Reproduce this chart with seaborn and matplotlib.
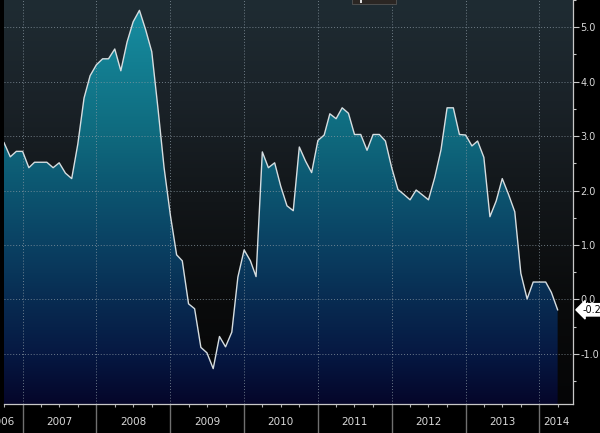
import numpy as np
import pandas as pd
import matplotlib
matplotlib.use("Agg")
import matplotlib.pyplot as plt
import matplotlib.dates as mdates
from matplotlib.colors import LinearSegmentedColormap
from matplotlib.patches import Rectangle
import matplotlib.transforms as mtransforms
import seaborn as sns

plt.rcParams["axes.unicode_minus"] = False

# ---------------- data (monthly, Oct 2006 .. Apr 2014) ----------------
start_month = "2006-10-01"
values = [
    2.88, 2.62, 2.72,                                                   # 2006 Q4
    2.72, 2.42, 2.52, 2.52, 2.52, 2.42, 2.51, 2.32, 2.22, 2.85, 3.70, 4.11,  # 2007
    4.31, 4.42, 4.42, 4.60, 4.20, 4.73, 5.10, 5.31, 4.95, 4.55, 3.50, 2.42,  # 2008
    1.55, 0.82, 0.71, -0.08, -0.17, -0.88, -0.98, -1.27, -0.68, -0.87, -0.60, 0.41,  # 2009
    0.91, 0.71, 0.42, 2.71, 2.42, 2.51, 2.08, 1.72, 1.63, 2.80, 2.54, 2.33,  # 2010
    2.92, 3.02, 3.41, 3.32, 3.52, 3.42, 3.03, 3.03, 2.74, 3.03, 3.03, 2.91,  # 2011
    2.42, 2.02, 1.93, 1.83, 2.01, 1.92, 1.83, 2.24, 2.75, 3.52, 3.52, 3.03,  # 2012
    3.02, 2.82, 2.91, 2.61, 1.52, 1.81, 2.22, 1.93, 1.61, 0.48, 0.01, 0.32,  # 2013
    0.32, 0.32, 0.13, -0.19,                                            # 2014
]
year_labels = ["2006", "2007", "2008", "2009", "2010", "2011", "2012", "2013", "2014"]
y_ticks = [-1.0, 0.0, 1.0, 2.0, 3.0, 4.0, 5.0]
last_label = "-0.2"

dates = pd.date_range(start_month, periods=len(values), freq="MS")
df = pd.DataFrame({"date": dates, "value": values})

# ---------------- figure ----------------
W, H = 600, 433
fig = plt.figure(figsize=(W / 100, H / 100), dpi=100, facecolor="black")
ax_l, ax_r, ax_t, ax_b = 4, 573, 0, 404
ax = fig.add_axes([ax_l / W, (H - ax_b) / H, (ax_r - ax_l) / W, (ax_b - ax_t) / H])
ax.set_facecolor("black")

ymin, ymax = -1.92, 5.47
x0 = mdates.date2num(pd.Timestamp(start_month))
x1 = mdates.date2num(pd.Timestamp("2014-06-16"))

# background gradient (dark slate -> black)
bg_cmap = LinearSegmentedColormap.from_list(
    "bg", [(0.0, "#1f2c33"), (0.25, "#1a2228"), (0.5, "#121619"), (0.75, "#0a0b0c"), (1.0, "#050506")])
grad = np.linspace(0, 1, 256).reshape(-1, 1)
ax.imshow(grad, cmap=bg_cmap, aspect="auto", extent=[0, 1, 0, 1],
          transform=ax.transAxes, zorder=0, interpolation="bicubic")

# area fill with vertical gradient (teal -> navy)
fill_cmap = LinearSegmentedColormap.from_list(
    "fill", [(0.0, "#188fa3"), (0.15, "#137f92"), (0.33, "#0f6a7e"), (0.47, "#0c5570"),
             (0.61, "#0a4062"), (0.74, "#082c52"), (0.88, "#061842"), (1.0, "#05062a")])
poly = ax.fill_between(mdates.date2num(dates), values, ymin, color="none", lw=0)
im = ax.imshow(grad, cmap=fill_cmap, aspect="auto", extent=[x0, x1, ymin, ymax],
               origin="upper", zorder=1, interpolation="bicubic")
im.set_clip_path(poly.get_paths()[0], transform=ax.transData)

# line
sns.lineplot(data=df, x="date", y="value", ax=ax, color="#d6dde0", lw=1.0, zorder=4)

ax.set_xlim(x0, x1)
ax.set_ylim(ymin, ymax)

# grid (dotted)
grid_kw = dict(color="#8c9aa4", lw=0.7, ls=(0, (1, 2)), zorder=3, alpha=0.75)
for yv in y_ticks:
    ax.axhline(yv, **grid_kw)
year_bounds = pd.date_range("2007-01-01", "2014-01-01", freq="YS")
for d in year_bounds:
    ax.axvline(mdates.date2num(d), **grid_kw)

# spines
for s in ["top", "left"]:
    ax.spines[s].set_visible(False)
for s in ["right", "bottom"]:
    ax.spines[s].set_color("#c8c8c8")
    ax.spines[s].set_linewidth(0.9)

# y axis on the right
ax.yaxis.tick_right()
ax.set_yticks(y_ticks)
ax.set_yticklabels([f"{v:.1f}" for v in y_ticks])
ax.set_yticks(np.arange(-1.5, 5.51, 1.0), minor=True)
ax.tick_params(axis="y", which="major", colors="#c8c8c8", length=4, width=0.8,
               labelcolor="#d8d8d8", labelsize=7, pad=1.5)
ax.tick_params(axis="y", which="minor", colors="#c8c8c8", length=2.5, width=0.8)
ax.set_ylabel("")

# x axis: long year-boundary ticks, quarterly minor ticks, centred labels
ax.set_xticks(mdates.date2num(year_bounds))
ax.set_xticklabels([])
ax.set_xticks(mdates.date2num(pd.date_range("2006-10-01", "2014-04-01", freq="QS")), minor=True)
ax.tick_params(axis="x", which="major", colors="#707070", length=21, width=1.0)
ax.tick_params(axis="x", which="minor", colors="#b0b0b0", length=2.5, width=0.8)
ax.set_xlabel("")

trans = mtransforms.blended_transform_factory(ax.transData, ax.transAxes)
label_pos = [x0 - 2.5 / 569 * (x1 - x0)]
for yr in year_labels[1:-1]:
    label_pos.append(mdates.date2num(pd.Timestamp(f"{yr}-07-01")))
label_pos.append((mdates.date2num(pd.Timestamp("2014-01-01")) + x1) / 2)
for lab, xp in zip(year_labels, label_pos):
    ax.text(xp, -0.045, lab, transform=trans, ha="center", va="center",
            color="#d8d8d8", fontsize=7.5, clip_on=False)

# last value badge
trans2 = mtransforms.blended_transform_factory(ax.transAxes, ax.transData)
ax.text(1.0165, values[-1], last_label, transform=trans2, ha="left", va="center",
        fontsize=7, color="black", clip_on=False,
        bbox=dict(boxstyle="larrow,pad=0.12", fc="white", ec="white"))

# small (cropped) legend box at top
fig.patches.append(Rectangle((352 / W, (H - 4) / H), 44 / W, 10 / H, transform=fig.transFigure,
                             fc="#2b2623", ec="#555555", lw=0.6, zorder=10))
fig.patches.append(Rectangle((360 / W, (H - 3) / H), 2 / W, 3 / H, transform=fig.transFigure,
                             fc="#dddddd", ec="none", zorder=11))

fig.savefig("out.png", dpi=100, facecolor="black")
